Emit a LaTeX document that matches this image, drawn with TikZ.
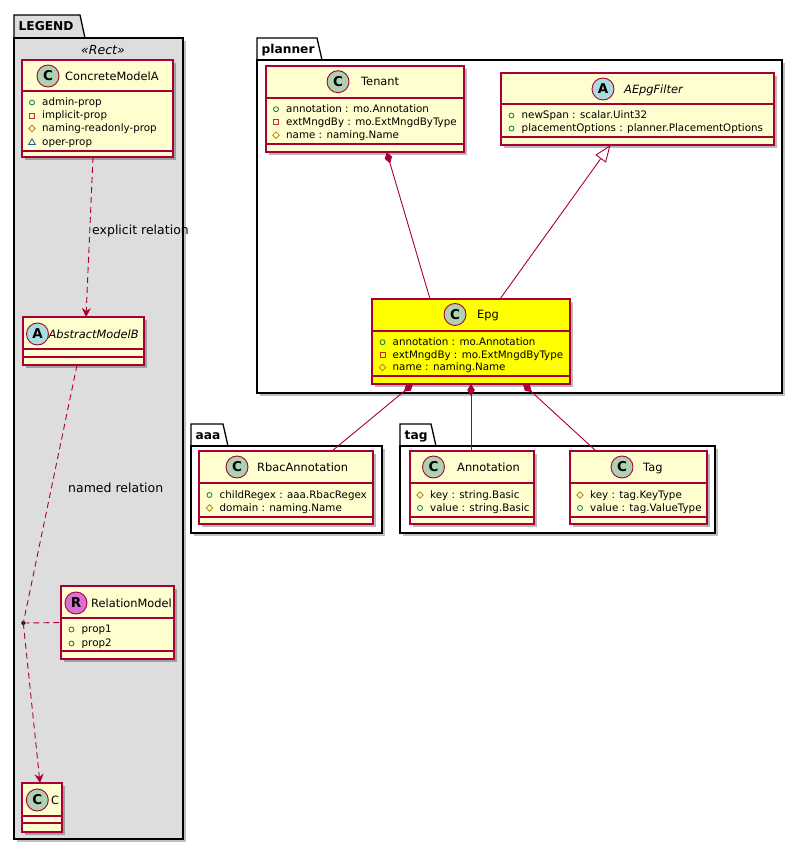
\documentclass[tikz,border=0pt]{standalone}
\usepackage{fontspec}
\setmainfont{DejaVu Sans}
\usetikzlibrary{arrows.meta,shadows}
\definecolor{clsfill}{HTML}{FEFECE}
\definecolor{clsborder}{HTML}{A80036}
\definecolor{spotC}{HTML}{ADD1B2}
\definecolor{spotA}{HTML}{A9DCDF}
\definecolor{spotR}{HTML}{DA70D6}
\definecolor{legendbg}{HTML}{DDDDDD}
\definecolor{epgfill}{HTML}{FFFF00}
\definecolor{pubc}{HTML}{038048}
\definecolor{privc}{HTML}{C82930}
\definecolor{protc}{HTML}{B38D22}
\definecolor{pkgc}{HTML}{1963A0}
\newcommand{\memfont}{\fontsize{10.3}{12}\selectfont}
\newcommand{\namefont}{\fontsize{11.4}{13}\selectfont}
\newcommand{\lblfont}{\fontsize{12.5}{14}\selectfont}
\newcommand{\pkgfont}{\bfseries\fontsize{12.2}{14}\selectfont}
\newcommand{\spotfont}{\bfseries\fontsize{13.5}{14}\selectfont}
\tikzset{
  classbox/.style={draw=clsborder, line width=1.3pt, fill=clsfill, inner sep=0pt, outer sep=0pt,
    drop shadow={shadow xshift=3pt, shadow yshift=-3pt, opacity=0.28, fill=black}},
  sepline/.style={draw=clsborder, line width=1.1pt},
  spot/.style={circle, draw=clsborder, line width=0.9pt, minimum size=22pt, inner sep=0pt, font=\spotfont},
  clsname/.style={inner sep=0pt, font=\namefont},
  member/.style={inner sep=0pt, font=\memfont},
  lbl/.style={inner sep=0pt, font=\lblfont},
  pkgline/.style={draw=black, line width=1.3pt},
  pkgshadow/.style={fill=black, opacity=0.25},
  pkglabel/.style={inner sep=0pt, font=\pkgfont},
  rel/.style={draw=clsborder, line width=0.9pt},
  comp/.style={rel, arrows={Diamond[length=12pt,width=7.5pt,fill=clsborder]-}},
  inherit/.style={rel, arrows={-Triangle[length=17pt,width=13pt,fill=white]}},
  dashrel/.style={rel, dash pattern=on 6pt off 4pt},
  dasharrow/.style={dashrel, arrows={-Stealth[length=9pt,width=9pt,inset=3pt]}},
  dotn/.style={circle, fill=black, inner sep=0pt, minimum size=4pt},
  iconpub/.pic={\draw[pubc, line width=0.8pt] (0,0) circle (2.5pt);},
  iconpriv/.pic={\draw[privc, line width=0.8pt] (-2.5,-2.5) rectangle (2.5,2.5);},
  iconprot/.pic={\draw[protc, line width=0.8pt] (0,-3.3) -- (3.3,0) -- (0,3.3) -- (-3.3,0) -- cycle;},
  iconpkg/.pic={\draw[pkgc, line width=0.8pt] (-3.4,2.6) -- (3.4,2.6) -- (0,-3.3) -- cycle;},
}
% #1 L, #2 tabR, #3 tabTop, #4 bodyTop, #5 R, #6 B, #7 fill, #8 label, #9 name
\newcommand{\pkg}[9]{%
  \fill[pkgshadow] ({#1+3},{#4+3}) rectangle ({#5+3},{#6+3});
  \draw[pkgline, fill=#7] (#1,#4) -- (#1,#3) -- ({#2-5},#3) -- (#2,#4) -- cycle;
  \draw[pkgline, fill=#7] (#1,#4) rectangle (#5,#6);
  \node[pkglabel, anchor=base west] (#9) at ({#1+4.5},{#3+15.3}) {#8};
}
% #1 name, #2 L, #3 T, #4 R, #5 B, #6 sep1, #7 sep2, #8 extra style
\newcommand{\umlclass}[8]{%
  \node[classbox,#8,minimum width={(#4)-(#2)},minimum height={(#5)-(#3)}] (#1) at ({((#2)+(#4))/2},{((#3)+(#5))/2}) {};
  \draw[sepline] (#2,#6) -- (#4,#6);
  \draw[sepline] (#2,#7) -- (#4,#7);
}
\newcommand{\spot}[5]{\node[spot, fill=#4] (#1) at (#2,#3) {#5};}
\newcommand{\clsname}[4]{\node[clsname, anchor=base west] (#1) at (#2,{#3+4.1}) {#4};}
\newcommand{\mem}[5]{\pic at (#3,{#4+0.5}) {icon#2};
  \node[member, anchor=base west] (#1) at ({#3+10},{#4+3.7}) {#5};}
\begin{document}
\begin{tikzpicture}[x=1pt,y=-1pt]
\useasboundingbox (0,0) rectangle (803,850);
% packages
\pkg{14}{85}{15}{38}{183}{839}{legendbg}{LEGEND}{pkgLegend}
\pkg{257}{322}{38}{60}{782}{393}{white}{planner}{pkgPlanner}
\pkg{191}{228}{424}{446}{382}{533}{white}{aaa}{pkgAaa}
\pkg{400}{436}{424}{446}{715}{533}{white}{tag}{pkgTag}
\node[lbl, anchor=base, font=\itshape\lblfont] (stereo) at (103,54.3) {«Rect»};
% legend classes
\umlclass{ConcreteModelA}{22}{60}{173}{157}{91}{151}{}
\spot{cmaSpot}{48}{76}{spotC}{C}
\clsname{cmaName}{65}{76}{ConcreteModelA}
\mem{cma1}{pub}{32}{102}{admin-prop}
\mem{cma2}{priv}{32}{115}{implicit-prop}
\mem{cma3}{prot}{32}{128}{naming-readonly-prop}
\mem{cma4}{pkg}{32}{141.5}{oper-prop}
\umlclass{AbstractModelB}{23}{317}{144}{365}{349}{357}{}
\spot{ambSpot}{37.5}{334}{spotA}{A}
\clsname{ambName}{48.5}{334}{\itshape AbstractModelB}
\umlclass{RelationModel}{61}{586}{174}{659}{618}{651}{}
\spot{rmSpot}{76}{603}{spotR}{R}
\clsname{rmName}{91}{603}{RelationModel}
\mem{rm1}{pub}{71.5}{629}{prop1}
\mem{rm2}{pub}{71.5}{643}{prop2}
\umlclass{Cbox}{22}{783}{62}{832}{816}{823}{}
\spot{cSpot}{37.3}{800}{spotC}{C}
\clsname{cName}{51}{800}{C}
% planner classes
\umlclass{Tenant}{266}{66}{464}{152}{98}{144}{}
\spot{tSpot}{338}{81.7}{spotC}{C}
\clsname{tName}{361}{81.7}{Tenant}
\mem{t1}{pub}{276}{108.7}{annotation : mo.Annotation}
\mem{t2}{priv}{276}{121.7}{extMngdBy : mo.ExtMngdByType}
\mem{t3}{prot}{276}{134.7}{name : naming.Name}
\umlclass{AEpgFilter}{501}{73}{774}{145}{104}{137}{}
\spot{aSpot}{603}{89}{spotA}{A}
\clsname{aName}{624}{89}{\itshape AEpgFilter}
\mem{a1}{pub}{511.5}{115}{newSpan : scalar.Uint32}
\mem{a2}{pub}{511.5}{128}{placementOptions : planner.PlacementOptions}
\umlclass{Epg}{372}{299}{570}{384}{331}{376}{fill=epgfill}
\spot{eSpot}{455}{314.5}{spotC}{C}
\clsname{eName}{477}{314.5}{Epg}
\mem{e1}{pub}{382.5}{341.7}{annotation : mo.Annotation}
\mem{e2}{priv}{382.5}{354.3}{extMngdBy : mo.ExtMngdByType}
\mem{e3}{prot}{382.5}{367}{name : naming.Name}
% aaa
\umlclass{RbacAnnotation}{199}{451}{373}{524}{483}{517}{}
\spot{rbSpot}{237}{467}{spotC}{C}
\clsname{rbName}{257}{467}{RbacAnnotation}
\mem{rb1}{pub}{209.5}{494.5}{childRegex : aaa.RbacRegex}
\mem{rb2}{prot}{209.5}{507.5}{domain : naming.Name}
% tag
\umlclass{Annotation}{410}{451}{534}{524}{483}{517}{}
\spot{anSpot}{433.5}{467}{spotC}{C}
\clsname{anName}{457}{467}{Annotation}
\mem{an1}{prot}{420}{494.5}{key : string.Basic}
\mem{an2}{pub}{420}{507.5}{value : string.Basic}
\umlclass{Tag}{570}{451}{707}{524}{483}{517}{}
\spot{tgSpot}{622}{467}{spotC}{C}
\clsname{tgName}{643}{467}{Tag}
\mem{tg1}{prot}{580}{494.5}{key : tag.KeyType}
\mem{tg2}{pub}{580}{507.5}{value : tag.ValueType}
% legend connectors
\draw[dasharrow] ([xshift=-4.5pt]ConcreteModelA.south) -- ([xshift=2.5pt]AbstractModelB.north);
\node[lbl, anchor=base west] (lblExplicit) at (92,234.5) {explicit relation};
\node[dotn] (rdot) at (23.3,623) {};
\draw[dashrel] ([xshift=-6.5pt]AbstractModelB.south) -- (rdot.center);
\draw[dasharrow] (rdot.center) -- ([xshift=-2pt]Cbox.north);
\draw[dashrel] (rdot.center) -- (RelationModel.west);
\node[lbl, anchor=base west] (lblNamed) at (68,492.8) {named relation};
% planner connectors
\draw[comp] ([xshift=21.7pt]Tenant.south) -- ([xshift=-41pt]Epg.north);
\draw[inherit] ([xshift=29pt]Epg.north) -- ([xshift=-27pt]AEpgFilter.south);
\draw[comp] ([xshift=-58pt]Epg.south) -- ([xshift=46pt]RbacAnnotation.north);
\draw[comp] (Epg.south) -- (Epg.south |- Annotation.north);
\draw[comp] ([xshift=52pt]Epg.south) -- ([xshift=-42.5pt]Tag.north);
\end{tikzpicture}
\end{document}
